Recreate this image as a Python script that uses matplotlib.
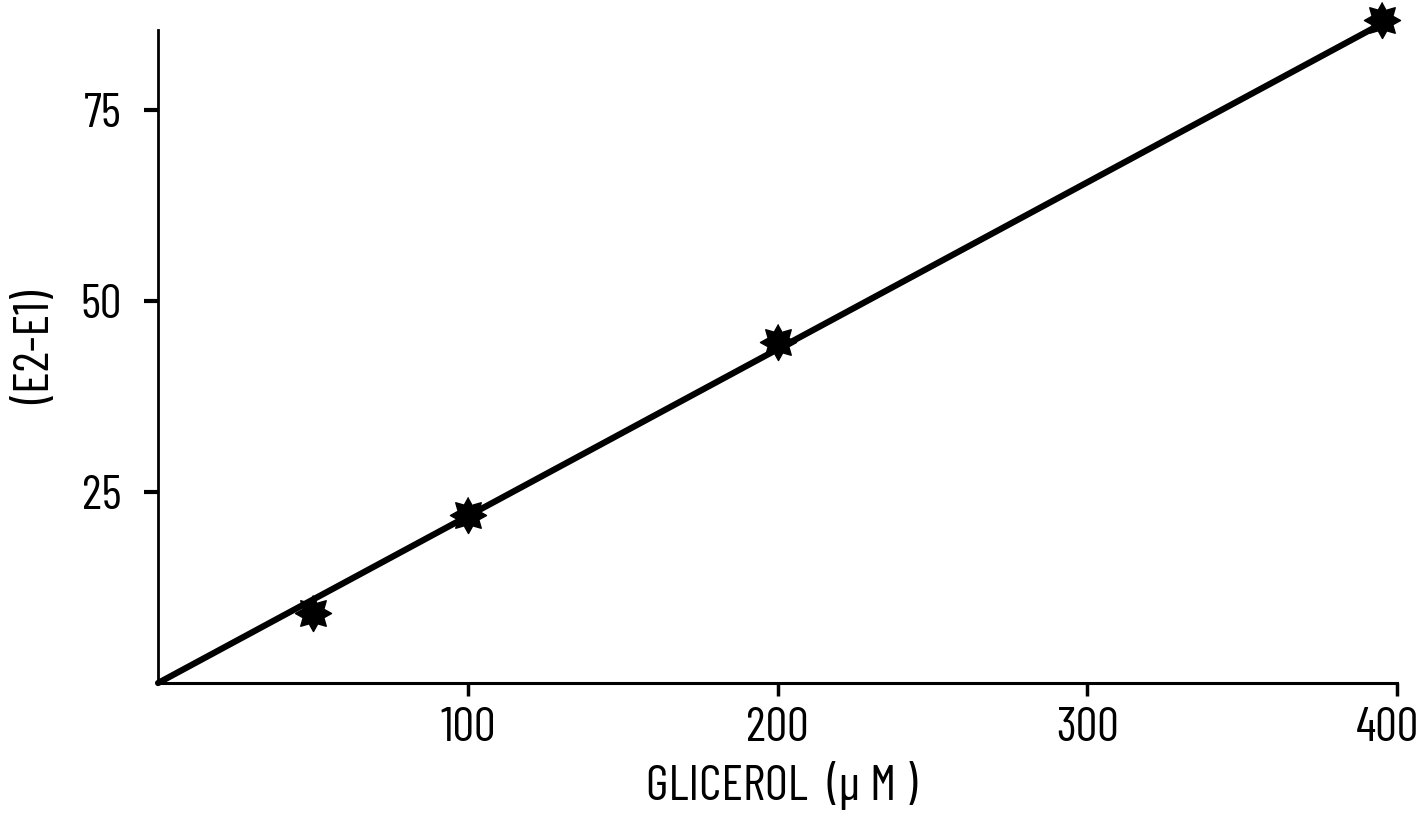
import matplotlib
matplotlib.use("Agg")
import matplotlib.pyplot as plt
import matplotlib.transforms as mtransforms
import numpy as np

# glicerol standard curve
glicerol = [50, 100, 200, 395]
delta_e = [9.2, 22.0, 44.6, 86.8]
fit_x = [0, 398]
fit_y = [0, 87.0]
xticks = [100, 200, 300, 400]
yticks = [25, 50, 75]

plt.rcParams['font.family'] = ['Barlow Condensed', 'DejaVu Sans']

# 8-pointed star, short spikes like the hand drawn ones
ang = np.linspace(0, 2 * np.pi, 17)[:-1] + np.pi / 2
rad = np.where(np.arange(16) % 2 == 0, 1.0, 0.62)
star = list(zip(rad * np.cos(ang), rad * np.sin(ang)))

fig = plt.figure(figsize=(14.19, 8.17), dpi=100)
ax = fig.add_axes([0.1114, 0.164, 0.8731, 0.799])

ax.plot(fit_x, fit_y, color='black', lw=4.5, solid_capstyle='round', clip_on=False)
ax.plot(glicerol, delta_e, ls='none', marker=star, ms=26, color='black', clip_on=False)

ax.set_xlim(0, 400)
ax.set_ylim(0, 85.5)
ax.spines['top'].set_visible(False)
ax.spines['right'].set_visible(False)
ax.spines['left'].set_linewidth(2)
ax.spines['bottom'].set_linewidth(2.2)

ax.set_xticks(xticks)
ax.set_yticks(yticks)
ax.tick_params(axis='x', length=9, width=2.5, pad=8, labelsize=35)
ax.tick_params(axis='y', length=10, width=3, pad=16, labelsize=35)

# last x label sits a little left of its tick in the original
lab = ax.get_xticklabels()[-1]
lab.set_transform(lab.get_transform() + mtransforms.ScaledTranslation(-0.1, 0, fig.dpi_scale_trans))

ax.set_xlabel('GLICEROL  (μ M )', fontsize=36)
ax.xaxis.set_label_coords(0.503, -0.12)
ax.set_ylabel('(E2-E1)', fontsize=36)
ax.yaxis.set_label_coords(-0.08, 0.515)

fig.savefig('out.png', dpi=100)
